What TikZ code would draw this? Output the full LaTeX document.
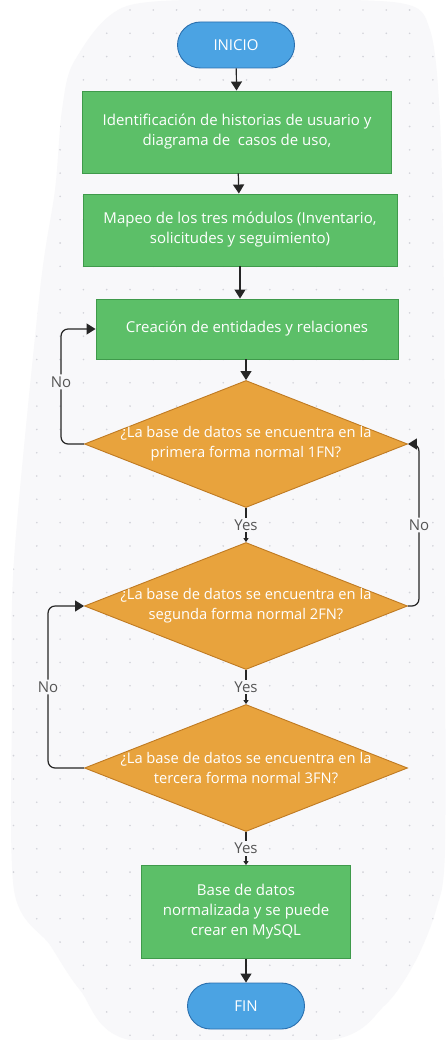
\documentclass[tikz,border=0pt]{standalone}
\usepackage{fontspec}
\setmainfont{Open Sans}
\usetikzlibrary{arrows.meta,shapes.geometric}

\definecolor{bgblob}{HTML}{F8F8FA}
\definecolor{griddot}{HTML}{D2D3D9}
\definecolor{procfill}{HTML}{5CBF68}
\definecolor{procline}{HTML}{3F9A4B}
\definecolor{askfill}{HTML}{E8A33D}
\definecolor{askline}{HTML}{BF7A22}
\definecolor{termfill}{HTML}{4BA3E3}
\definecolor{termline}{HTML}{2A6FAE}
\definecolor{tagtext}{HTML}{555555}

\tikzset{
  boxtext/.style={text=white, font=\fontsize{15}{20}\selectfont, align=center},
  asktext/.style={text=white, font=\fontsize{14.7}{20}\selectfont, align=center},
  proc/.style={boxtext, draw=procline, fill=procfill, line width=0.9pt, inner sep=0pt},
  term/.style={boxtext, draw=termline, fill=termfill, line width=0.9pt, rounded corners=23pt,
    minimum width=117pt, minimum height=46pt},
  ask/.style={shape=diamond, draw=askline, fill=askfill, line width=0.9pt, inner sep=0pt,
    minimum width=323pt, minimum height=127pt},
  flow/.style={line width=1.2pt, black!85, -{Triangle[length=9pt,width=11pt]}},
  tag/.style={fill=bgblob, text=tagtext, font=\fontsize{15}{16}\selectfont, inner sep=2pt}
}

\begin{document}
\begin{tikzpicture}[x=1pt, y=-1pt]
  %%%%% BACKGROUND %%%%%
  \useasboundingbox (0,0) rectangle (445,1040);
  \fill[white] (0,0) rectangle (445,1040);
  \path[fill=bgblob] plot[smooth cycle, tension=0.5] coordinates {
    (127,6) (260,0) (400,3) (430,30) (440,120) (444,300) (445,600) (445,850)
    (436,910) (415,962) (385,1005) (330,1040) (130,1040) (80,990) (50,945)
    (14,890) (12,700) (14,560) (40,290) (55,190) (62,110) (75,60)};
  \begin{scope}
    \clip plot[smooth cycle, tension=0.5] coordinates {
      (127,6) (260,0) (400,3) (430,30) (440,120) (444,300) (445,600) (445,850)
      (436,910) (415,962) (385,1005) (330,1040) (130,1040) (80,990) (50,945)
      (14,890) (12,700) (14,560) (40,290) (55,190) (62,110) (75,60)};
    \foreach \i in {0,...,19}
      \foreach \j in {0,...,44}
        \fill[griddot] ({13.5+23.3*\i},{10+23.3*\j}) circle (0.9);
  \end{scope}

  %%%%% NODES %%%%%
  \node[term] (ini) at (236,45) {INICIO};
  \node[proc, minimum width=309pt, minimum height=82pt] (hist) at (237,132)
    {Identificación de historias de usuario y\\diagrama de\ \ casos de uso,};
  \node[proc, minimum width=314pt, minimum height=72pt] (mapeo) at (240,230)
    {Mapeo de los tres módulos (Inventario,\\solicitudes y seguimiento)};
  \node[proc, minimum width=302pt, minimum height=60pt] (ent) at (247,329)
    {Creación de entidades y relaciones};
  \node[ask, label={[asktext]center:{¿La base de datos se encuentra en la\\primera forma normal 1FN?}}]
    (fn1) at (246,444) {};
  \node[ask, label={[asktext]center:{¿La base de datos se encuentra en la\\segunda forma normal 2FN?}}]
    (fn2) at (246,606) {};
  \node[ask, label={[asktext]center:{¿La base de datos se encuentra en la\\tercera forma normal 3FN?}}]
    (fn3) at (246,768) {};
  \node[proc, minimum width=209pt, minimum height=93pt] (norm) at (246,912)
    {Base de datos\\normalizada y se puede\\crear en MySQL};
  \node[term] (fin) at (246,1006) {FIN};

  %%%%% CONNECTORS %%%%%
  \draw[flow] (ini) -- (hist);
  \draw[flow] (hist) -- (mapeo);
  \draw[flow] (mapeo.south) -- (mapeo.south |- ent.north);
  \draw[flow] (ent.south -| fn1.north) -- (fn1.north);
  \draw[flow, -{Triangle[length=4pt,width=5pt]}] (fn1.south) -- node[tag] (y1) {Yes} (fn2.north);
  \draw[flow, -{Triangle[length=4pt,width=5pt]}] (fn2.south) -- node[tag] (y2) {Yes} (fn3.north);
  \draw[flow, -{Triangle[length=4pt,width=5pt]}] (fn3.south) -- node[tag] (y3) {Yes} (norm.north);
  \draw[flow] (norm) -- (fin);

  \draw[flow, rounded corners=7pt] (fn1.west) -- ++(-23,0) |- node[tag, pos=0.27] (n1) {No} (ent.west);
  \draw[flow, rounded corners=7pt] (fn2.east) -- ++(11,0) |- node[tag, pos=0.25] (n2) {No} (fn1.east);
  \draw[flow, rounded corners=7pt] (fn3.west) -- ++(-36,0) |- node[tag, pos=0.25] (n3) {No} (fn2.west);
\end{tikzpicture}
\end{document}
